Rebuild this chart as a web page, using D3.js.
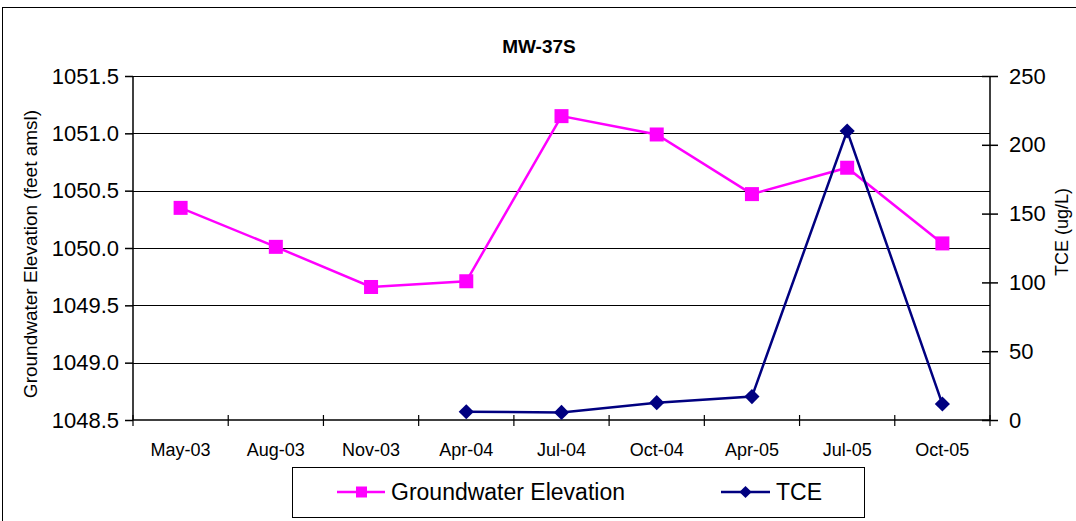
<!DOCTYPE html>
<html><head><meta charset="utf-8">
<script src="https://cdn.jsdelivr.net/npm/d3@7"></script>
<style>html,body{margin:0;padding:0;background:#fff;}svg{display:block;font-family:"Liberation Sans",Arial,sans-serif;}</style>
</head><body>
<svg id="c" width="1076" height="521"></svg>
<script>
const categories = ["May-03","Aug-03","Nov-03","Apr-04","Jul-04","Oct-04","Apr-05","Jul-05","Oct-05"];
const gwElevation = [1050.35, 1050.01, 1049.66, 1049.71, 1051.15, 1050.99, 1050.47, 1050.70, 1050.04];
const tce = [null, null, null, 6, 5.5, 12.6, 17, 210, 11.6];
const leftTicks = [1048.5, 1049.0, 1049.5, 1050.0, 1050.5, 1051.0, 1051.5];
const rightTicks = [0, 50, 100, 150, 200, 250];
const title = "MW-37S";
const leftTitle = "Groundwater Elevation (feet amsl)";
const rightTitle = "TCE (ug/L)";
const legendLabels = ["Groundwater Elevation", "TCE"];

const svg = d3.select("#c");
const L = 133, R = 990, T = 76, B = 420;

svg.append("rect").attr("x",2.5).attr("y",7.5).attr("width",1080).attr("height",530)
  .attr("fill","none").attr("stroke","#000").attr("stroke-width",1);

const x = d3.scaleBand().domain(categories).range([L,R]).padding(0);
const yL = d3.scaleLinear().domain([1048.5,1051.5]).range([B,T]);
const yR = d3.scaleLinear().domain([0,250]).range([B,T]);

// gridlines
svg.append("g").selectAll("line").data(leftTicks.slice(1)).join("line")
  .attr("x1",L).attr("x2",R).attr("y1",d=>Math.round(yL(d))+0.5).attr("y2",d=>Math.round(yL(d))+0.5)
  .attr("stroke","#000").attr("stroke-width",1).attr("shape-rendering","crispEdges");

// left axis
const ax = d3.axisLeft(yL).tickValues(leftTicks).tickFormat(d3.format(".1f")).tickSize(8).tickPadding(6);
const gL = svg.append("g").attr("transform",`translate(${L},0)`).call(ax);
gL.selectAll("text").attr("font-size",22).attr("fill","#000").attr("font-family","Liberation Sans, Arial, sans-serif");
gL.selectAll("line,path").attr("stroke","#000").attr("stroke-width",1.5);
gL.select(".domain").attr("d",`M0,${T}V${B}`);

// right axis
const axR = d3.axisRight(yR).tickValues(rightTicks).tickFormat(d3.format("d")).tickSize(8).tickPadding(11);
const gR = svg.append("g").attr("transform",`translate(${R},0)`).call(axR);
gR.selectAll(".tick line").attr("x1",-8);
gR.selectAll("text").attr("font-size",22).attr("fill","#000").attr("font-family","Liberation Sans, Arial, sans-serif");
gR.selectAll("line,path").attr("stroke","#000").attr("stroke-width",1.5);
gR.select(".domain").attr("d",`M0,${T}V${B}`);

// x axis
const gX = svg.append("g").attr("transform",`translate(0,${B})`);
gX.append("line").attr("x1",L).attr("x2",R).attr("y1",0).attr("y2",0).attr("stroke","#000").attr("stroke-width",1.5);
const bounds = categories.map(c=>x(c)).concat([R]);
gX.selectAll("line.tk").data(bounds).join("line").attr("class","tk")
  .attr("x1",d=>d).attr("x2",d=>d).attr("y1",-5).attr("y2",6).attr("stroke","#000").attr("stroke-width",1.2);
gX.selectAll("text").data(categories).join("text")
  .attr("x",d=>x(d)+x.bandwidth()/2).attr("y",36).attr("text-anchor","middle")
  .attr("font-size",18).attr("fill","#000").text(d=>d);

// titles
svg.append("text").attr("x",539).attr("y",53).attr("text-anchor","middle")
  .attr("font-size",19).attr("font-weight","bold").text(title);
svg.append("text").attr("transform",`translate(37,${(T+B)/2+6}) rotate(-90)`)
  .attr("text-anchor","middle").attr("font-size",19).text(leftTitle);
svg.append("text").attr("transform",`translate(1068,232) rotate(-90)`)
  .attr("text-anchor","middle").attr("font-size",18).text(rightTitle);

// series
const cx = d => x(d)+x.bandwidth()/2;
const gwPts = categories.map((c,i)=>({c,v:gwElevation[i]}));
const tcePts = categories.map((c,i)=>({c,v:tce[i]})).filter(d=>d.v!=null);

const PINK = "#FF00FF", NAVY = "#000080";
svg.append("path").datum(gwPts)
  .attr("d",d3.line().x(d=>cx(d.c)).y(d=>yL(d.v)))
  .attr("fill","none").attr("stroke",PINK).attr("stroke-width",2.5);
svg.append("path").datum(tcePts)
  .attr("d",d3.line().x(d=>cx(d.c)).y(d=>yR(d.v)))
  .attr("fill","none").attr("stroke",NAVY).attr("stroke-width",2.5);

svg.append("g").selectAll("rect").data(gwPts).join("rect")
  .attr("x",d=>cx(d.c)-7).attr("y",d=>yL(d.v)-7).attr("width",14).attr("height",14).attr("fill",PINK);
svg.append("g").selectAll("path").data(tcePts).join("path")
  .attr("transform",d=>`translate(${cx(d.c)},${yR(d.v)}) rotate(45)`)
  .attr("d",d3.symbol().type(d3.symbolSquare).size(115)).attr("fill",NAVY);

// legend
const lg = svg.append("g");
lg.append("rect").attr("x",292.5).attr("y",467.5).attr("width",572).attr("height",50)
  .attr("fill","#fff").attr("stroke","#000").attr("stroke-width",1);
const ly = 492;
lg.append("line").attr("x1",337).attr("x2",385).attr("y1",ly).attr("y2",ly).attr("stroke",PINK).attr("stroke-width",2.5);
lg.append("rect").attr("x",356).attr("y",ly-5.5).attr("width",11).attr("height",11).attr("fill",PINK);
lg.append("text").attr("x",391).attr("y",ly+8).attr("font-size",23).text(legendLabels[0]);
lg.append("line").attr("x1",721).attr("x2",770).attr("y1",ly).attr("y2",ly).attr("stroke",NAVY).attr("stroke-width",2.5);
lg.append("path").attr("transform",`translate(745.5,${ly}) rotate(45)`)
  .attr("d",d3.symbol().type(d3.symbolSquare).size(75)).attr("fill",NAVY);
lg.append("text").attr("x",776).attr("y",ly+8).attr("font-size",23).text(legendLabels[1]);
</script>
</body></html>
